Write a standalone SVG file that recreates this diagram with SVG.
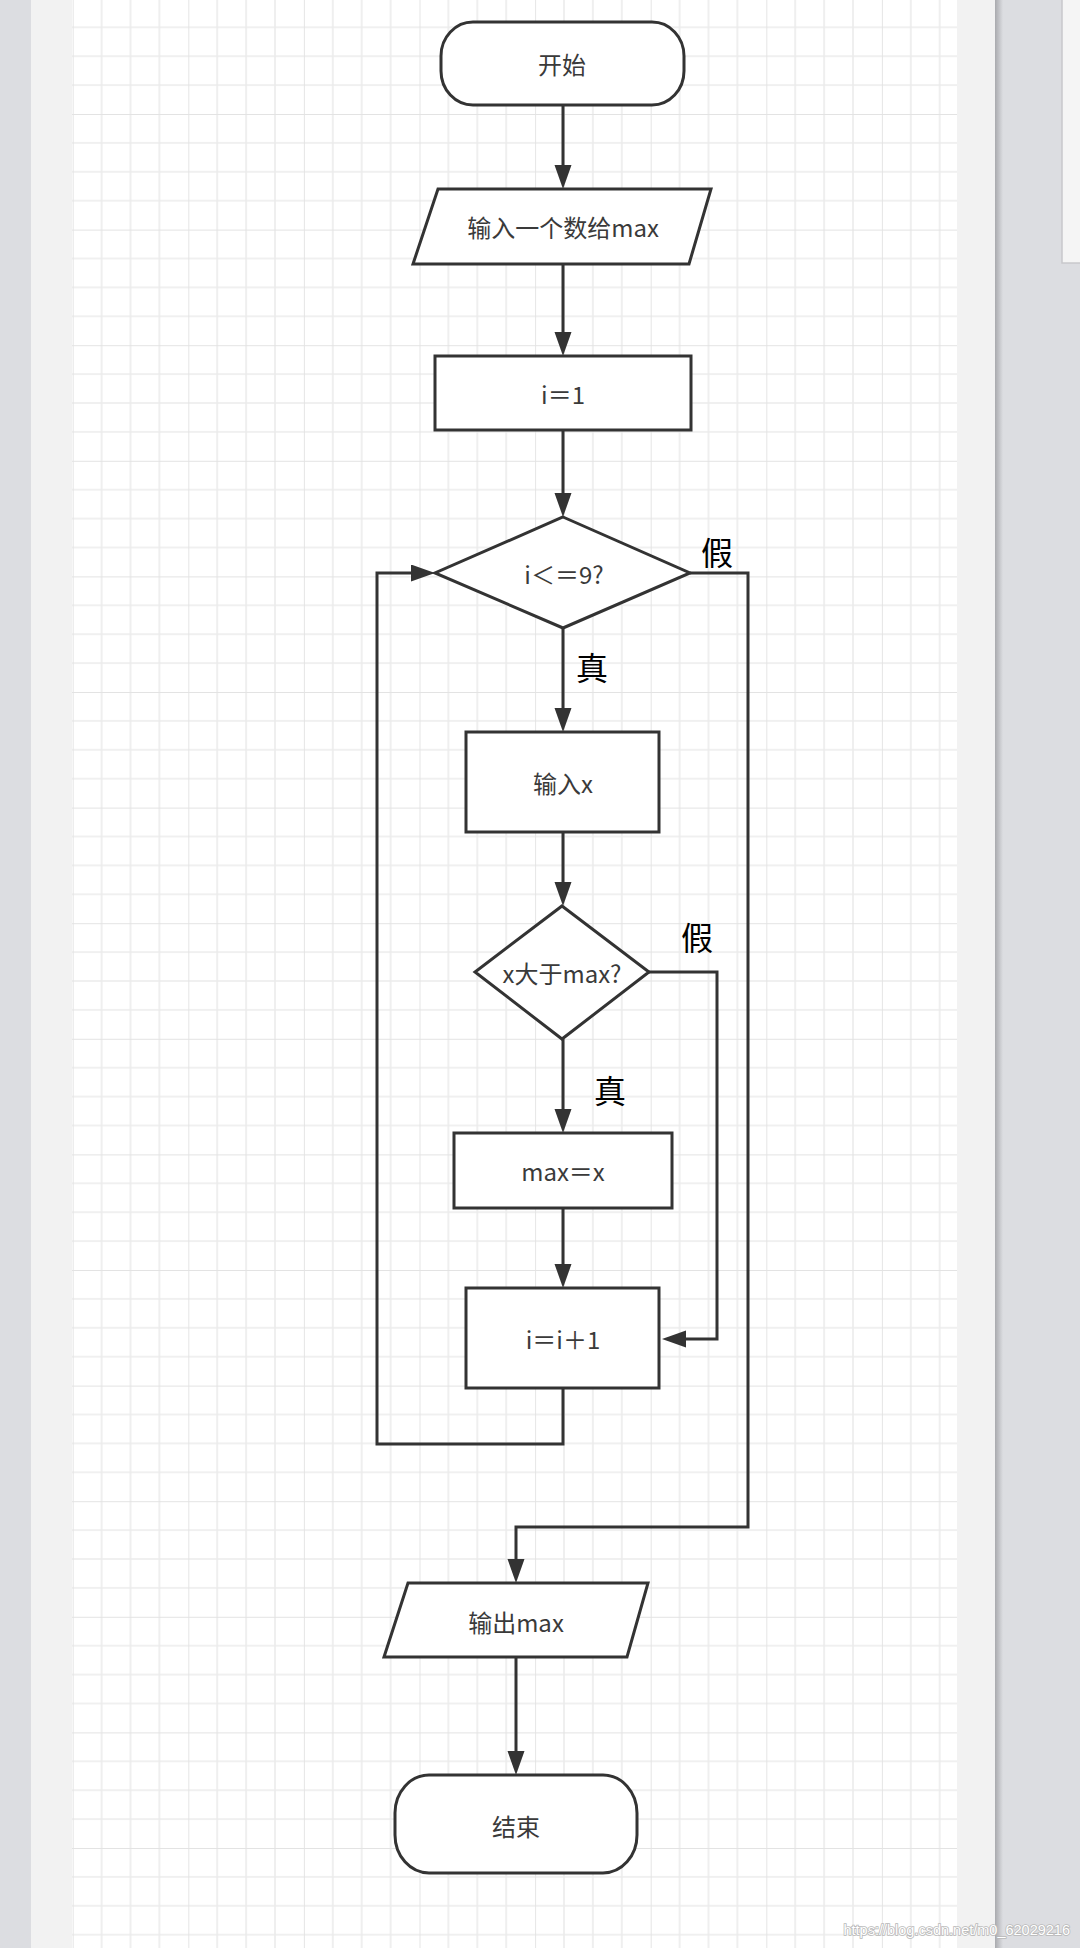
<svg xmlns="http://www.w3.org/2000/svg" width="1080" height="1948" viewBox="0 0 1080 1948">
<defs>
<pattern id="grid" patternUnits="userSpaceOnUse" x="72.7" y="-1.6" width="115.6" height="115.6">
<rect width="115.6" height="115.6" fill="#ffffff"/>
<g stroke="#ececec" stroke-width="1.6">
<line x1="28.9" y1="0" x2="28.9" y2="115.6"/>
<line x1="57.8" y1="0" x2="57.8" y2="115.6"/>
<line x1="86.7" y1="0" x2="86.7" y2="115.6"/>
<line x1="0" y1="28.9" x2="115.6" y2="28.9"/>
<line x1="0" y1="57.8" x2="115.6" y2="57.8"/>
<line x1="0" y1="86.7" x2="115.6" y2="86.7"/>
</g>
<g stroke="#e3e3e3" stroke-width="1.8">
<line x1="0" y1="0" x2="0" y2="115.6"/>
<line x1="0" y1="0" x2="115.6" y2="0"/>
</g>
</pattern>
<linearGradient id="shadowR" x1="0" y1="0" x2="1" y2="0">
<stop offset="0" stop-color="#a9aaae"/>
<stop offset="1" stop-color="#dcdde1"/>
</linearGradient>
<marker id="arr" markerUnits="userSpaceOnUse" markerWidth="26" markerHeight="19" refX="14" refY="8.5" orient="auto">
<path d="M0,0 L24,8.5 L0,17 z" fill="#333333"/>
</marker>
</defs>
<style>
.node{fill:#ffffff;stroke:#333333;stroke-width:3;}
.t{font-family:"Noto Sans CJK SC","Noto Sans",sans-serif;font-size:24px;fill:#3a3a3a;text-anchor:middle;dominant-baseline:central;}
.lbl{font-family:"Noto Sans CJK SC",sans-serif;font-size:32px;fill:#000000;text-anchor:middle;dominant-baseline:central;}
.edge{fill:none;stroke:#333333;stroke-width:3;}
</style>

<!-- background -->
<rect x="0" y="0" width="1080" height="1948" fill="#dcdde1"/>
<rect x="31" y="0" width="964" height="1948" fill="#f2f2f2"/>
<rect x="72" y="0" width="885" height="1948" fill="url(#grid)"/>
<rect x="995" y="0" width="8" height="1948" fill="url(#shadowR)"/>
<rect x="1062" y="-2" width="20" height="265" fill="#f5f5f5" stroke="#c8c8cb" stroke-width="1.5"/>

<!-- connectors -->
<g id="connectors">
<path class="edge" d="M563,105 V179" marker-end="url(#arr)"/>
<path class="edge" d="M563,264 V346" marker-end="url(#arr)"/>
<path class="edge" d="M563,430 V507" marker-end="url(#arr)"/>
<path class="edge" d="M563,628 V722" marker-end="url(#arr)"/>
<path class="edge" d="M563,832 V896" marker-end="url(#arr)"/>
<path class="edge" d="M563,1039 V1123" marker-end="url(#arr)"/>
<path class="edge" d="M563,1208 V1278" marker-end="url(#arr)"/>
<path class="edge" d="M563,1388 V1444 H377 V573 H425" marker-end="url(#arr)"/>
<path class="edge" d="M690,573 H748 V1527 H516 V1573" marker-end="url(#arr)"/>
<path class="edge" d="M649,972 H717 V1339 H672" marker-end="url(#arr)"/>
<path class="edge" d="M516,1657 V1765" marker-end="url(#arr)"/>
<text class="lbl" x="717" y="551">假</text>
<text class="lbl" x="592" y="666">真</text>
<text class="lbl" x="697" y="936">假</text>
<text class="lbl" x="610" y="1089">真</text>
</g>

<!-- nodes -->
<g id="start">
<rect class="node" x="441" y="22" width="243" height="83" rx="32" ry="34"/>
<text class="t" x="562" y="63">开始</text>
</g>
<g id="input-max">
<polygon class="node" points="438,189 711,189 689,264 413,264"/>
<text class="t" x="563" y="226">输入一个数给max</text>
</g>
<g id="init-i">
<rect class="node" x="435" y="356" width="256" height="74"/>
<text class="t" x="563" y="393">i＝1</text>
</g>
<g id="cond-i">
<polygon class="node" points="563,517 690,573 563,628 435,573"/>
<text class="t" x="564" y="573">i＜＝9?</text>
</g>
<g id="input-x">
<rect class="node" x="466" y="732" width="193" height="100"/>
<text class="t" x="563" y="782">输入x</text>
</g>
<g id="cond-x">
<polygon class="node" points="562,906 649,972 562,1039 475,972"/>
<text class="t" x="562" y="972">x大于max?</text>
</g>
<g id="assign-max">
<rect class="node" x="454" y="1133" width="218" height="75"/>
<text class="t" x="563" y="1170">max＝x</text>
</g>
<g id="inc-i">
<rect class="node" x="466" y="1288" width="193" height="100"/>
<text class="t" x="563" y="1338">i＝i＋1</text>
</g>
<g id="output-max">
<polygon class="node" points="408,1583 648,1583 627,1657 384,1657"/>
<text class="t" x="516" y="1621">输出max</text>
</g>
<g id="end">
<rect class="node" x="395" y="1775" width="242" height="98" rx="34" ry="38"/>
<text class="t" x="516" y="1825">结束</text>
</g>

<!-- watermark -->
<text x="1070" y="1935" font-family="Liberation Sans, Arial, sans-serif" font-size="14.5" text-anchor="end" fill="none" stroke="#b8b8b8" stroke-width="1.6">https://blog.csdn.net/m0_62029216</text>
<text x="1070" y="1935" font-family="Liberation Sans, Arial, sans-serif" font-size="14.5" text-anchor="end" fill="#ffffff">https://blog.csdn.net/m0_62029216</text>
</svg>
